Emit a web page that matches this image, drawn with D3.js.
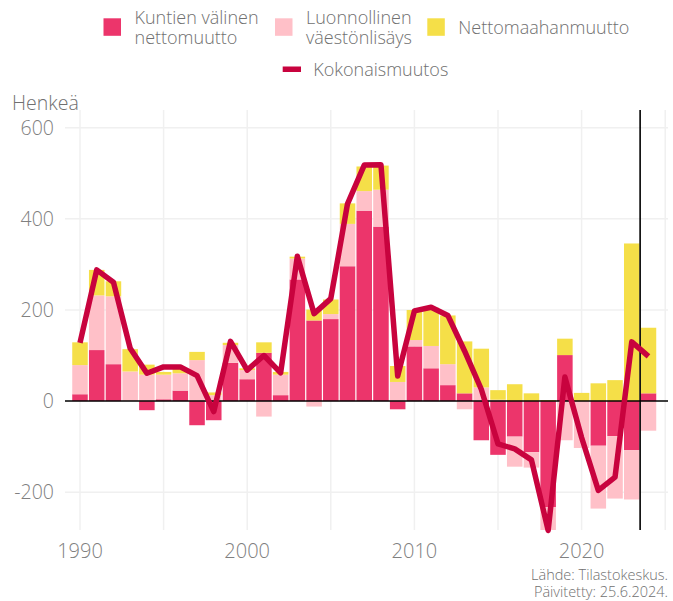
<!DOCTYPE html>
<html><head><meta charset="utf-8">
<script src="https://cdn.jsdelivr.net/npm/d3@7"></script>
<style>body{margin:0;background:#fff;} svg{display:block;font-family:"Open Sans",sans-serif;font-weight:300;}</style>
</head><body><svg id="c" width="673" height="601"></svg>
<script>
// ---- data ----
const years = [1990,1991,1992,1993,1994,1995,1996,1997,1998,1999,
  2000,2001,2002,2003,2004,2005,2006,2007,2008,2009,
  2010,2011,2012,2013,2014,2015,2016,2017,2018,2019,
  2020,2021,2022,2023,2024];
const kuntienValinen = [15,112,81,0,-20,4,23,-53,-42,84,
  48,106,13,267,177,180,296,418,383,-18,
  120,72,35,17,-86,-118,-78,-112,-233,101,
  0,-98,-77,-108,17];
const luonnollinen = [64,120,149,65,58,54,38,90,13,39,
  20,-34,45,46,-12,11,93,43,81,42,
  14,49,46,-18,30,3,-66,-34,-53,-86,
  -103,-138,-137,-108,-65];
const nettomaahanmuutto = [50,56,33,49,22,6,10,18,6,5,
  4,23,6,4,24,32,45,54,53,35,
  66,84,107,114,85,21,37,17,2,36,
  18,39,46,346,144];
const kokonaismuutos = [128,288,261,116,61,75,75,56,-23,131,
  68,100,62,318,192,225,433,518,519,55,
  198,206,188,110,26,-94,-105,-129,-284,53,
  -80,-196,-167,130,98];
const seriesLabels = [["Kuntien välinen","nettomuutto"],["Luonnollinen","väestönlisäys"],["Nettomaahanmuutto"]];
const lineLabel = "Kokonaismuutos";
const xTickLabels = [1990,2000,2010,2020];
const xGridYears = [1990,1995,2000,2005,2010,2015,2020,2025];
const yTickValues = [-200,0,200,400,600];
const markerYear = 2023.5;
const yTitle = "Henkeä";
const sourceLines = ["Lähde: Tilastokeskus.","Päivitetty: 25.6.2024."];

// ---- styles ----
const colors = ["#ec356b","#ffc0c8","#f5df48"];
const lineColor = "#c8033e";
const textColor = "#707070";

const svg = d3.select("#c");
const pLeft=65, pRight=668, pTop=110, pBottom=530;
const x = d3.scaleLinear().domain([1990,2025]).range([80,665.2]);
const y = d3.scaleLinear().domain([-283,639]).range([pBottom,pTop]);

const rows = years.map((yr,i)=>({year:yr,k:kuntienValinen[i],l:luonnollinen[i],n:nettomaahanmuutto[i]}));
const stack = d3.stack().keys(["k","l","n"]).offset(d3.stackOffsetDiverging)(rows);

// grid
const g = svg.append("g");
g.selectAll("line.hg").data(yTickValues.filter(v=>v!==0)).join("line")
  .attr("x1",pLeft).attr("x2",pRight).attr("y1",d=>y(d)).attr("y2",d=>y(d))
  .attr("stroke","#f0f0f0").attr("stroke-width",1.5);
g.selectAll("line.vg").data(xGridYears).join("line")
  .attr("x1",d=>x(d)).attr("x2",d=>x(d)).attr("y1",pTop).attr("y2",pBottom)
  .attr("stroke","#f0f0f0").attr("stroke-width",1.5);

// bars
svg.append("clipPath").attr("id","clip").append("rect")
  .attr("x",pLeft).attr("y",pTop).attr("width",pRight-pLeft).attr("height",pBottom-pTop);
const bars = svg.append("g").attr("clip-path","url(#clip)");
stack.forEach((s,si)=>{
  bars.selectAll("rect.s"+si).data(s).join("rect")
    .attr("x",d=>x(d.data.year-0.5)+0.6)
    .attr("width",d=>x(d.data.year+0.5)-x(d.data.year-0.5)-1.2)
    .attr("y",d=>y(Math.max(d[0],d[1])))
    .attr("height",d=>Math.abs(y(d[0])-y(d[1])))
    .attr("fill",colors[si]);
});

// zero line
svg.append("line").attr("x1",pLeft).attr("x2",pRight).attr("y1",y(0)).attr("y2",y(0))
  .attr("stroke","#000").attr("stroke-width",1.5);
// marker line
svg.append("line").attr("x1",x(markerYear)).attr("x2",x(markerYear)).attr("y1",pTop).attr("y2",pBottom)
  .attr("stroke","#000").attr("stroke-width",1.6);

// total line
svg.append("path").datum(years.map((yr,i)=>[yr,kokonaismuutos[i]]))
  .attr("d",d3.line().x(d=>x(d[0])).y(d=>y(d[1])))
  .attr("fill","none").attr("stroke",lineColor).attr("stroke-width",5.5)
  .attr("stroke-linejoin","round");

// axes labels
svg.selectAll("text.yt").data(yTickValues).join("text")
  .attr("x",54).attr("y",d=>y(d)).attr("dy","0.35em").attr("text-anchor","end")
  .attr("font-size",19.5).attr("fill","#808080").text(d=>d);
svg.selectAll("text.xt").data(xTickLabels).join("text")
  .attr("x",d=>x(d)).attr("y",558).attr("text-anchor","middle")
  .attr("font-size",20).attr("fill","#808080").text(d=>d);
svg.append("text").attr("x",12).attr("y",110).attr("font-size",19.5).attr("fill",textColor).text(yTitle);

// source
sourceLines.forEach((t,i)=>{
  svg.append("text").attr("x",668).attr("y",580+i*16.5).attr("text-anchor","end")
    .attr("font-size",14.5).attr("fill",textColor).text(t);
});

// legend
const legX = [103.5,275,427.3];
seriesLabels.forEach((lab,i)=>{
  svg.append("rect").attr("x",legX[i]).attr("y",18.3).attr("width",17.5).attr("height",17.5).attr("fill",colors[i]);
  if(lab.length===1){
    svg.append("text").attr("x",legX[i]+31).attr("y",33.5).attr("font-size",18).attr("fill",textColor).text(lab[0]);
  } else {
    lab.forEach((l,j)=>svg.append("text").attr("x",legX[i]+31).attr("y",24+j*19.5)
      .attr("font-size",18).attr("fill",textColor).text(l));
  }
});
svg.append("rect").attr("x",282.7).attr("y",66.5).attr("width",18.3).attr("height",5.5).attr("fill",lineColor);
svg.append("text").attr("x",313.3).attr("y",76).attr("font-size",18).attr("fill",textColor).text(lineLabel);
</script></body></html>
